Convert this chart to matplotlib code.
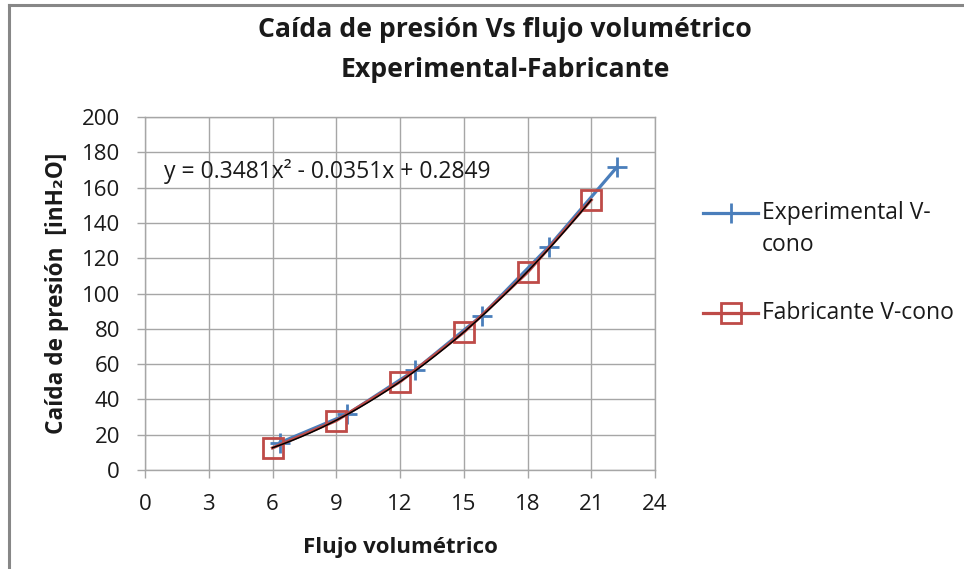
import numpy as np
import matplotlib
matplotlib.use("Agg")
import matplotlib.pyplot as plt
from matplotlib.lines import Line2D

plt.rcParams['font.family'] = ['Open Sans', 'DejaVu Sans']

# Series data
flujo_exp = [6.35, 9.5, 12.7, 15.85, 19.0, 22.2]
dp_exp = [15.5, 31.5, 56.5, 87.5, 126.5, 171.5]
flujo_fab = [6, 9, 12, 15, 18, 21]
dp_fab = [12.5, 28, 50, 78, 112, 153]

# Polynomial trendline of the manufacturer series
coef_trend = [0.3481, -0.0351, 0.2849]

x_ticks = [0, 3, 6, 9, 12, 15, 18, 21, 24]
y_ticks = [0, 20, 40, 60, 80, 100, 120, 140, 160, 180, 200]

title = "Caída de presión Vs flujo volumétrico\nExperimental-Fabricante"
xlabel = "Flujo volumétrico"
ylabel = "Caída de presión  [inH₂O]"
label_exp = "Experimental V-\ncono"
label_fab = "Fabricante V-cono"

blue = "#4a7ebb"
red = "#be4b48"
grid_c = "#a6a6a6"
text_c = "#1a1a1a"

W, H = 964, 569
fig = plt.figure(figsize=(W / 100, H / 100), dpi=100)
ax = fig.add_axes([145 / W, 1 - 470 / H, 510 / W, 353 / H])

exp_style = dict(color=blue, lw=2.3, marker='+', ms=14, mew=2)
fab_style = dict(color=red, lw=2.3, marker='s', ms=14, mew=2,
                 mfc='none', mec=red)

ax.plot(flujo_exp, dp_exp, zorder=3, **exp_style)
ax.plot(flujo_fab, dp_fab, zorder=4, **fab_style)

xt = np.linspace(min(flujo_fab), max(flujo_fab), 200)
ax.plot(xt, np.polyval(coef_trend, xt), color='black', lw=1.1, zorder=5)

ax.set_xlim(0, 24)
ax.set_ylim(0, 200)
ax.set_xticks(x_ticks)
ax.set_yticks(y_ticks)
ax.tick_params(labelsize=16, labelcolor=text_c, color=grid_c, length=6,
               width=1, direction='out')
ax.tick_params(axis='x', pad=11)
ax.tick_params(axis='y', pad=12)
ax.grid(True, color=grid_c, lw=1)
ax.set_axisbelow(True)
for s in ax.spines.values():
    s.set_color(grid_c)
    s.set_linewidth(1)

fig.text(400 / W, 1 - 548 / H, xlabel, fontsize=16, fontweight='bold',
         ha='center', va='center', color=text_c)
fig.text(57 / W, 1 - 293 / H, ylabel, fontsize=16.3, fontweight='bold',
         ha='center', va='center', rotation=90, color=text_c)

ax.text(0.9, 169, "y = 0.3481x² - 0.0351x + 0.2849", fontsize=16.5,
        color=text_c, va='center', ha='left', zorder=6)

fig.text(505 / W, 1 - 30 / H, title.split("\n")[0], fontsize=19.2,
         fontweight='bold', ha='center', va='center', color=text_c)
fig.text(505 / W, 1 - 70 / H, title.split("\n")[1], fontsize=19.2,
         fontweight='bold', ha='center', va='center', color=text_c)

# Legend drawn in figure coordinates
def legend_entry(y_px, style, lines):
    xs = [703 / W, 730.5 / W, 758 / W]
    ys = [1 - y_px / H] * 3
    fig.add_artist(Line2D(xs, ys, transform=fig.transFigure,
                          markevery=[1], **style))
    for i, line in enumerate(lines):
        fig.text(762 / W, 1 - (y_px + i * 32) / H, line, fontsize=16.5,
                 ha='left', va='center', color=text_c)

legend_entry(213, exp_style, label_exp.split("\n"))
legend_entry(313, fab_style, [label_fab])

# Chart area frame (top and left edges)
frame_c = '#878787'
fig.add_artist(Line2D([9 / W, 9 / W], [0, 1 - 5 / H],
                      transform=fig.transFigure, color=frame_c, lw=2.2))
fig.add_artist(Line2D([9 / W, 1], [1 - 5 / H, 1 - 5 / H],
                      transform=fig.transFigure, color=frame_c, lw=2.2))

fig.savefig("out.png", dpi=100)
